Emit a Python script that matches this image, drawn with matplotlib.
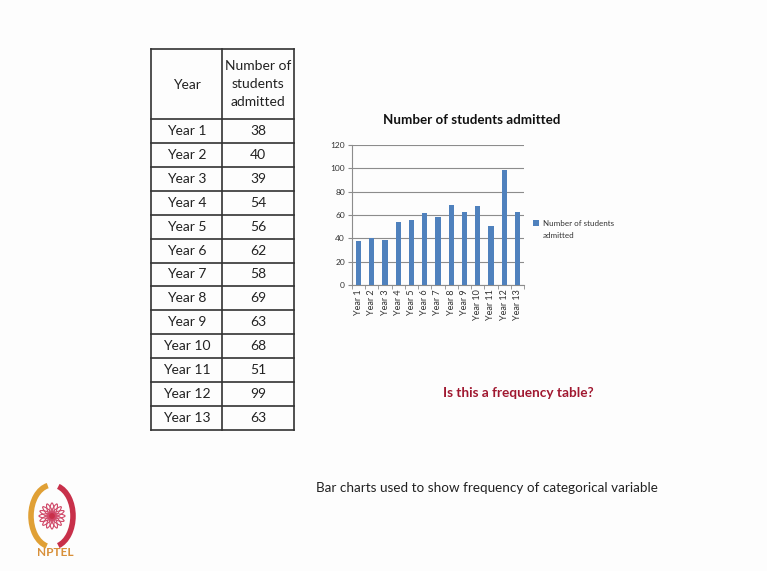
import numpy as np
import matplotlib
matplotlib.use("Agg")
import matplotlib.pyplot as plt
from matplotlib import patches

plt.rcParams['font.family'] = ['Lato', 'DejaVu Sans']

# admissions per year
years = ['Year 1', 'Year 2', 'Year 3', 'Year 4', 'Year 5', 'Year 6', 'Year 7',
         'Year 8', 'Year 9', 'Year 10', 'Year 11', 'Year 12', 'Year 13']
admitted = [38, 40, 39, 54, 56, 62, 58, 69, 63, 68, 51, 99, 63]
y_ticks = [0, 20, 40, 60, 80, 100, 120]

series_name = 'Number of students\nadmitted'
chart_title = 'Number of students admitted'
question = 'Is this a frequency table?'
caption = 'Bar charts used to show frequency of categorical variable'

BAR = '#4F81BD'
W, H = 767, 571

fig = plt.figure(figsize=(W / 100, H / 100), dpi=100, facecolor='#fdfdfd')

# slide layer in pixel coordinates
bg = fig.add_axes([0, 0, 1, 1])
bg.set_xlim(0, W)
bg.set_ylim(H, 0)
bg.axis('off')

# ---- table ----
col_x = [151, 222, 294]
head_top, head_bot = 49, 119
row_h = (430 - head_bot) / len(years)
line_kw = dict(color='#333333', lw=1.2, solid_capstyle='projecting')
bottom = head_bot + row_h * len(years)
for x in col_x:
    bg.plot([x, x], [head_top, bottom], **line_kw)
bg.plot([col_x[0], col_x[-1]], [head_top, head_top], **line_kw)
for i in range(len(years) + 1):
    yy = head_bot + i * row_h
    bg.plot([col_x[0], col_x[-1]], [yy, yy], **line_kw)

cell_kw = dict(ha='center', va='center', fontsize=10, color='#222222')
bg.text((col_x[0] + col_x[1]) / 2, 85, 'Year', **cell_kw)
bg.text((col_x[1] + col_x[2]) / 2, 84, 'Number of\nstudents\nadmitted',
        linespacing=1.65, **cell_kw)
for i, (yr, n) in enumerate(zip(years, admitted)):
    yc = head_bot + (i + 0.5) * row_h
    bg.text((col_x[0] + col_x[1]) / 2, yc, yr, **cell_kw)
    bg.text((col_x[1] + col_x[2]) / 2, yc, str(n), **cell_kw)

# ---- bar chart ----
ax = fig.add_axes([352 / W, 1 - 285 / H, 172 / W, 140 / H])
x = np.arange(len(years))
ax.bar(x, admitted, width=0.4, color=BAR, label=series_name, zorder=3)
ax.set_xlim(-0.5, len(years) - 0.5)
ax.set_ylim(0, 120)
ax.set_yticks(y_ticks)
ax.set_facecolor('none')
ax.grid(axis='y', color='#8c8c8c', lw=0.8, zorder=0)
for s in ['top', 'right']:
    ax.spines[s].set_visible(False)
for s in ['left', 'bottom']:
    ax.spines[s].set_color('#8c8c8c')
    ax.spines[s].set_linewidth(0.8)
ax.set_xticks(x)
ax.set_xticklabels(years, rotation=90, fontsize=6.5, color='#333333')
ax.set_xticks(np.arange(-0.5, len(years)), minor=True)
ax.tick_params(axis='x', which='major', length=0, pad=3)
ax.tick_params(axis='x', which='minor', length=3, color='#8c8c8c')
ax.tick_params(axis='y', length=3, color='#8c8c8c', labelsize=6, labelcolor='#333333', pad=2)

leg = ax.legend(loc='upper left', bbox_to_anchor=(533 / W, 1 - 220 / H),
                bbox_transform=fig.transFigure, frameon=False, fontsize=5.8,
                handlelength=0.7, handleheight=0.7, handletextpad=0.5,
                borderpad=0, borderaxespad=0)
for t in leg.get_texts():
    t.set_linespacing(1.75)
    t.set_color('#333333')
# put the legend swatch next to the first line of the label
for col in leg._legend_handle_box.get_children():
    for row in col.get_children():
        row.align = 'top'

bg.text(472, 120, chart_title, ha='center', va='center', fontsize=9.6,
        fontweight='bold', color='#111111')

# ---- slide text ----
bg.text(518, 393, question, ha='center', va='center', fontsize=9.8,
        fontweight='bold', color='#A01830')
bg.text(487, 488, caption, ha='center', va='center', fontsize=9.7,
        color='#222222')

# ---- logo ----
cx, cy = 52, 516
bg.add_patch(patches.Arc((cx, cy), 42, 62, theta1=100, theta2=262,
                         color='#E0A035', lw=4))
bg.add_patch(patches.Arc((cx, cy), 42, 62, theta1=-78, theta2=78,
                         color='#C8304A', lw=4))
for ang in np.arange(0, 180, 22.5):
    bg.add_patch(patches.Ellipse((cx, cy), 26, 5, angle=ang, fill=False,
                                 ec='#D04868', lw=0.8))
bg.add_patch(patches.Circle((cx, cy), 2.2, color='#C8304A'))
bg.text(cx + 3, 553, 'NPTEL', ha='center', va='center', fontsize=8.5,
        fontweight='bold', color='#D8903A')

fig.savefig('out.png', dpi=100, facecolor=fig.get_facecolor())
